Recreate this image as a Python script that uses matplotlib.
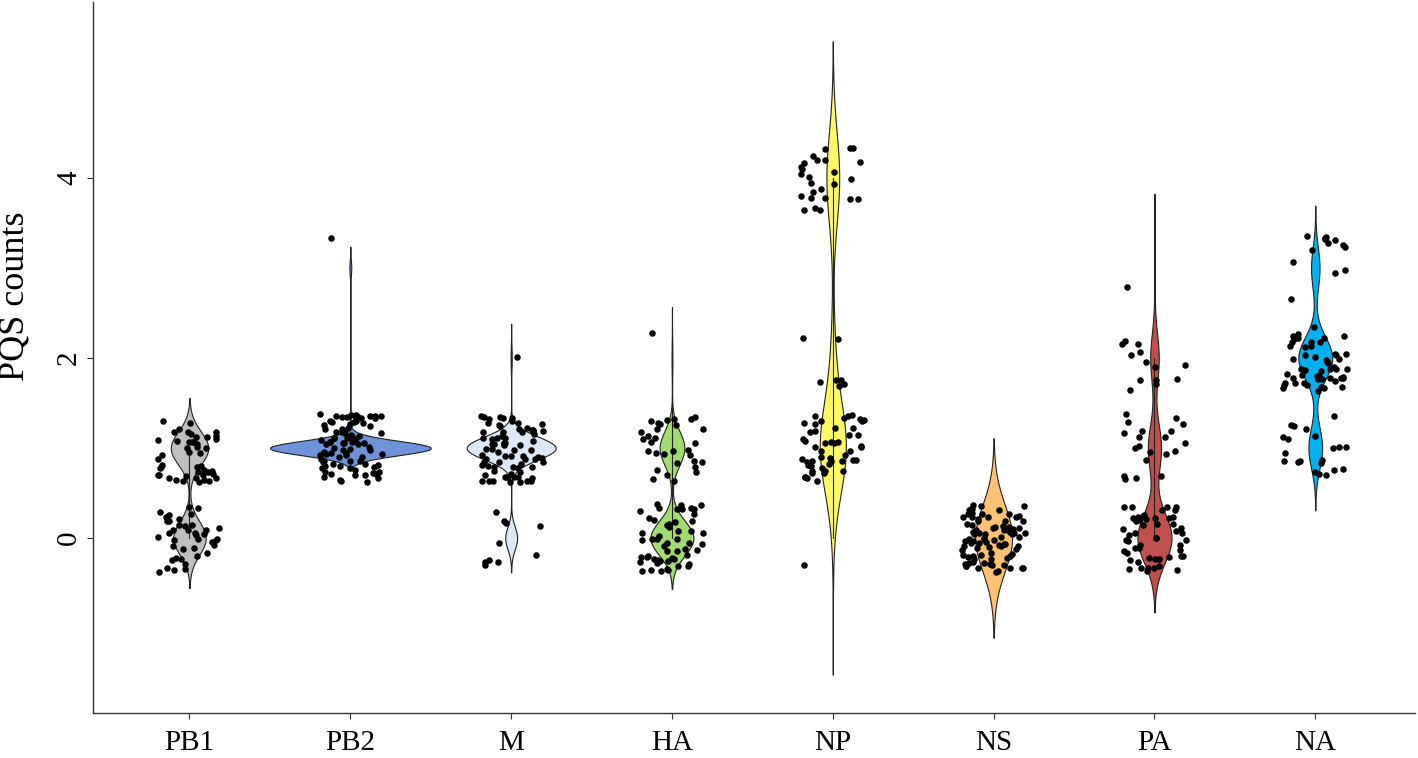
import matplotlib
matplotlib.use("Agg")
import matplotlib.pyplot as plt
import numpy as np

# PQS counts per segment, stored as (value -> number of strains)
segments = ["PB1", "PB2", "M", "HA", "NP", "NS", "PA", "NA"]
count_values = [
    [0, 1],
    [1, 3],
    [0, 1, 2],
    [0, 1, 2],
    [0, 1, 2, 4],
    [0],
    [0, 1, 2, 3],
    [1, 2, 3],
]
count_freqs = [
    [40, 46],
    [85, 1],
    [10, 75, 1],
    [54, 31, 1],
    [1, 52, 7, 26],
    [86],
    [52, 20, 13, 1],
    [21, 52, 13],
]
fill_colors = ["#BFBFBF", "#6F93D8", "#DCE8F6", "#A2DB70",
               "#FFF866", "#FFC274", "#C0504D", "#00B0F0"]
# extra width factor per violin (reference draws NP and PA a bit wider)
width_factor = [1.0, 1.0, 1.0, 1.0, 1.65, 1.05, 1.2, 1.0]


def bw_nrd0(x):
    hi = np.std(x, ddof=1)
    q25, q75 = np.percentile(x, [25, 75])
    lo = min(hi, (q75 - q25) / 1.34)
    if lo == 0:
        lo = hi or abs(x[0]) or 1.0
    return 0.9 * lo * len(x) ** -0.2


def kde(x, grid, bw):
    z = (grid[:, None] - x[None, :]) / bw
    return np.exp(-0.5 * z ** 2).sum(axis=1) / (len(x) * bw * np.sqrt(2 * np.pi))


def jitter_offsets(n, salt):
    # deterministic hash in [-1, 1], used only to spread the dots
    k = np.arange(n, dtype=float)
    u = np.modf(np.abs(np.sin(k * 12.9898 + salt * 78.233) * 43758.5453))[0]
    v = np.modf(np.abs(np.sin(k * 39.3467 + salt * 11.135) * 24634.6345))[0]
    return u * 2 - 1, v * 2 - 1


fig = plt.figure(figsize=(14.18, 7.58), dpi=100)
ax = fig.add_axes([93 / 1418, 45 / 758, (1415 - 93) / 1418, 711 / 758])

samples = [np.repeat(np.array(v, float), f) for v, f in zip(count_values, count_freqs)]

violins = []
for x in samples:
    bw = bw_nrd0(x)
    grid = np.linspace(x.min() - 3 * bw, x.max() + 3 * bw, 512)
    violins.append((grid, kde(x, grid, bw)))
max_dens = max(d.max() for _, d in violins)

for i, (x, (grid, dens)) in enumerate(zip(samples, violins)):
    pos = i + 1
    half = dens / max_dens * 0.5 * width_factor[i]
    ax.fill_betweenx(grid, pos - half, pos + half,
                     facecolor=fill_colors[i], edgecolor="#222222",
                     linewidth=0.8, zorder=2)

    q1, q3 = np.percentile(x, [25, 75])
    iqr = q3 - q1
    lo_w = x[x >= q1 - 1.5 * iqr].min()
    hi_w = x[x <= q3 + 1.5 * iqr].max()
    if hi_w > lo_w:
        ax.plot([pos, pos], [lo_w, hi_w], color="#222222",
                linewidth=0.8, zorder=3)

    dx, dy = jitter_offsets(len(x), i + 1)
    ax.scatter(pos + 0.2 * dx, x + 0.38 * dy, s=22, color="black",
               linewidths=0, zorder=4)

ax.set_xlim(0.4, 8.62)
ax.set_ylim(-1.944, 5.956)
ax.set_xticks(range(1, 9))
ax.set_xticklabels(segments, fontfamily="Liberation Serif", fontsize=21)
ax.set_yticks([0, 2, 4])
ax.set_yticklabels(["0", "2", "4"], fontfamily="Liberation Serif",
                   fontsize=21, rotation=90, va="center")
ax.tick_params(axis="both", length=4, width=0.8, color="#333333")
ax.tick_params(axis="x", pad=8)
ax.tick_params(axis="y", pad=4)

for side in ["top", "right"]:
    ax.spines[side].set_visible(False)
for side in ["left", "bottom"]:
    ax.spines[side].set_linewidth(1.0)
    ax.spines[side].set_color("#333333")

fig.text(15 / 1418, 1 - 296 / 758, "PQS counts", rotation=90,
         ha="center", va="center", fontfamily="Liberation Serif", fontsize=26)

fig.savefig("out.png", dpi=100)
